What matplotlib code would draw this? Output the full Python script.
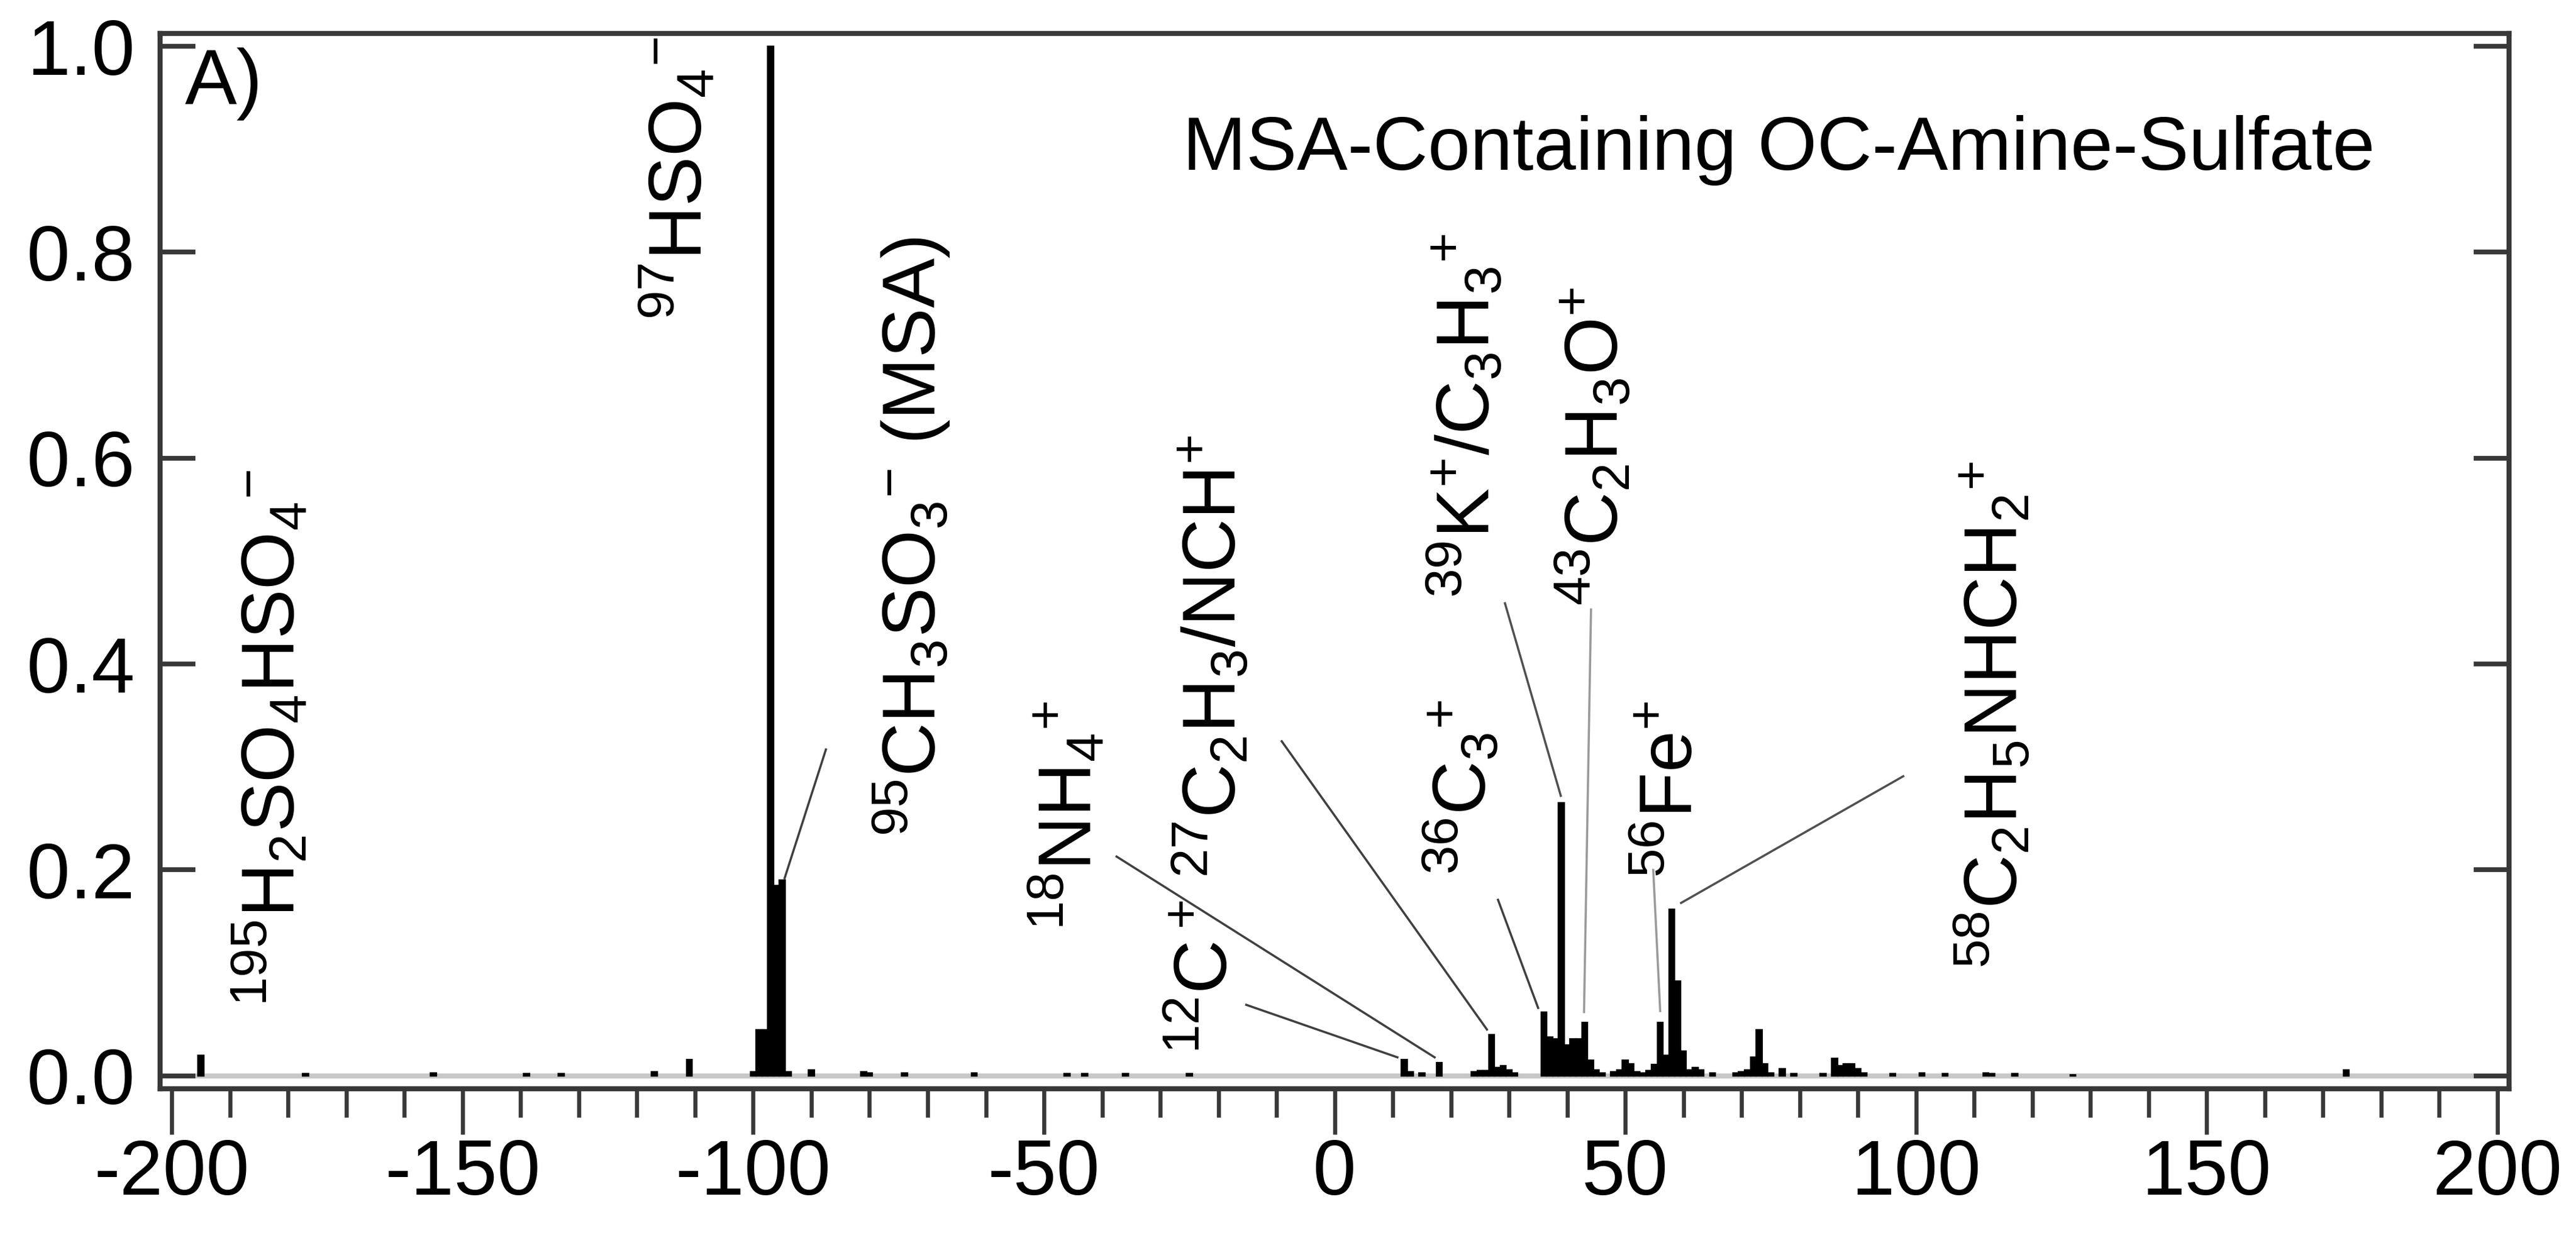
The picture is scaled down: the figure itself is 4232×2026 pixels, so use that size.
import matplotlib
matplotlib.use('Agg')
import matplotlib.pyplot as plt
from matplotlib.ticker import MultipleLocator

plt.rcParams['font.family'] = ['Liberation Sans', 'DejaVu Sans']
plt.rcParams['mathtext.fontset'] = 'custom'
plt.rcParams['mathtext.rm'] = 'Liberation Sans'
plt.rcParams['mathtext.it'] = 'Liberation Sans:italic'
plt.rcParams['mathtext.bf'] = 'Liberation Sans:bold'
plt.rcParams['axes.unicode_minus'] = False

# spectrum: negative m/z = anions, positive m/z = cations
mz = [-195, -177, -155, -139, -133, -117, -111, -100, -99, -98, -97, -96, -95, -94,
      -90, -81, -80, -74, -62, -46, -43, -36, -25,
      12, 13, 15, 18, 24, 25, 26, 27, 28, 29, 30, 31,
      36, 37, 38, 39, 40, 41, 42, 43, 44, 45, 46, 48, 49, 50, 51, 52, 53, 54, 55,
      56, 57, 58, 59, 60, 61, 62, 63, 65, 69, 70, 71, 72, 73, 74, 75, 77, 79, 84,
      86, 87, 88, 89, 90, 91, 96, 101, 105, 112, 113, 117, 127, 174]
intensity = [0.020, 0.002, 0.003, 0.002, 0.002, 0.004, 0.016, 0.004, 0.045, 0.045, 1.0, 0.185, 0.19, 0.004,
             0.006, 0.004, 0.003, 0.003, 0.003, 0.002, 0.002, 0.002, 0.002,
             0.016, 0.004, 0.003, 0.013, 0.004, 0.005, 0.005, 0.040, 0.008, 0.010, 0.006, 0.003,
             0.062, 0.038, 0.036, 0.265, 0.030, 0.036, 0.036, 0.052, 0.015, 0.006, 0.003, 0.004, 0.006, 0.015, 0.012, 0.004, 0.003, 0.005, 0.011,
             0.052, 0.020, 0.162, 0.092, 0.024, 0.006, 0.008, 0.006, 0.003, 0.003, 0.004, 0.006, 0.018, 0.045, 0.012, 0.003, 0.007, 0.002, 0.002,
             0.017, 0.010, 0.012, 0.012, 0.007, 0.003, 0.002, 0.003, 0.002, 0.003, 0.002, 0.002, 0.001, 0.006]

# peak labels (start of text, baseline side)
labels = [r'$^{195}\mathrm{H_2SO_4HSO_4{}^{-}}$',
          r'$^{97}\mathrm{HSO_4{}^{-}}$',
          r'$^{95}\mathrm{CH_3SO_3{}^{-}\ (MSA)}$',
          r'$^{18}\mathrm{NH_4{}^{+}}$',
          r'$^{12}\mathrm{C\,^{+}}$',
          r'$^{27}\mathrm{C_2H_3/NCH^{+}}$',
          r'$^{36}\mathrm{C_3{}^{+}}$',
          r'$^{39}\mathrm{K^{+}/C_3H_3{}^{+}}$',
          r'$^{43}\mathrm{C_2H_3O^{+}}$',
          r'$^{56}\mathrm{Fe^{+}}$',
          r'$^{58}\mathrm{C_2H_5NHCH_2{}^{+}}$']
label_x = [-178.8, -108.7, -68.6, -41.7, -18.5, -17.0, 26.1, 26.7, 48.8, 61.5, 117.5]
label_y = [0.067, 0.734, 0.232, 0.141, 0.021, 0.192, 0.195, 0.464, 0.456, 0.192, 0.104]

# leader lines from label to peak
lead_x0 = [-87.5, -37.5, -15.2, -9.1, 28.1, 29.3, 44.1, 54.8, 97.8]
lead_y0 = [0.317, 0.213, 0.069, 0.325, 0.171, 0.459, 0.453, 0.200, 0.291]
lead_x1 = [-94.6, 17.2, 10.8, 26.2, 35.0, 38.9, 42.9, 56.0, 59.6]
lead_y1 = [0.192, 0.018, 0.018, 0.045, 0.066, 0.272, 0.062, 0.063, 0.168]
lead_color = ['#404040', '#404040', '#404040', '#404040', '#404040', '#505050', '#9a9a9a', '#9a9a9a', '#505050']

fig = plt.figure(figsize=(21.16, 10.13), dpi=200)
ax = fig.add_axes([0.0622, 0.117, 0.9118, 0.8559])

ax.axhline(0, color='#c8c8c8', lw=3, zorder=1)
ax.bar(mz, intensity, width=1.0, color='black', edgecolor='black', linewidth=0.8, zorder=2)

for i in range(len(lead_x0)):
    ax.plot([lead_x0[i], lead_x1[i]], [lead_y0[i], lead_y1[i]], color=lead_color[i], lw=1.3, zorder=3)

for i in range(len(labels)):
    ax.text(label_x[i], label_y[i], labels[i], rotation=90, rotation_mode='anchor',
            ha='left', va='baseline', fontsize=44)

ax.text(-26.1, 0.88, 'MSA-Containing OC-Amine-Sulfate', ha='left', va='baseline', fontsize=45)
ax.text(0.0105, 0.933, 'A)', transform=ax.transAxes, ha='left', va='baseline', fontsize=46)

ax.set_xlim(-202, 202)
ax.set_ylim(-0.0125, 1.0125)
ax.xaxis.set_major_locator(MultipleLocator(50))
ax.xaxis.set_minor_locator(MultipleLocator(10))
ax.yaxis.set_major_locator(MultipleLocator(0.2))
ax.xaxis.set_major_formatter(lambda v, p: f'{v:.0f}')
ax.yaxis.set_major_formatter('{x:.1f}')

spc = '#383838'
for s in ax.spines.values():
    s.set_linewidth(3)
    s.set_color(spc)
ax.tick_params(axis='x', which='major', direction='out', length=27, width=2.4, pad=2,
               labelsize=46, color=spc, top=False)
ax.tick_params(axis='x', which='minor', direction='out', length=17, width=2.4, color=spc, top=False)
ax.tick_params(axis='y', which='major', direction='in', length=21, width=2.8, pad=15,
               labelsize=46, color=spc, left=True, right=True)

fig.savefig('out.png', dpi=200)
